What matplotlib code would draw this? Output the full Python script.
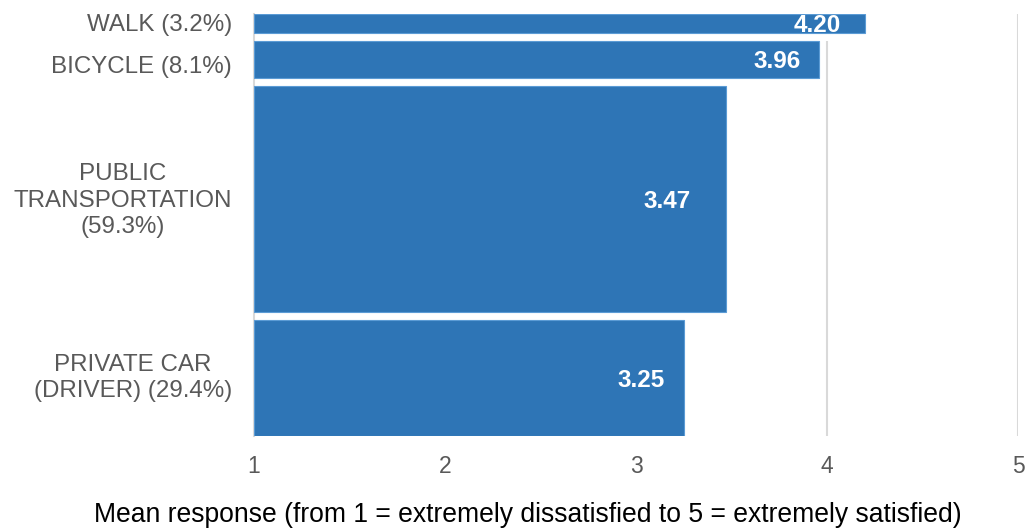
import matplotlib
matplotlib.use("Agg")
import matplotlib.pyplot as plt
from matplotlib.patches import Rectangle
from matplotlib.transforms import ScaledTranslation

# Travel modes with their share of respondents and mean satisfaction
modes = ["WALK", "BICYCLE", "PUBLIC\nTRANSPORTATION", "PRIVATE CAR\n(DRIVER)"]
shares = [3.2, 8.1, 59.3, 29.4]
means = [4.20, 3.96, 3.47, 3.25]
x_ticks = [1, 2, 3, 4, 5]

# Category label text: mode name followed by the share
labels = ["WALK (3.2%)", "BICYCLE (8.1%)",
          "PUBLIC\nTRANSPORTATION\n(59.3%)", "PRIVATE CAR\n(DRIVER) (29.4%)"]

plt.rcParams["font.family"] = ["Liberation Sans", "DejaVu Sans"]
BAR = "#2E75B6"
GREY = "#595959"
GRID = "#D9D9D9"

fig = plt.figure(figsize=(10.26, 5.28), dpi=100)
W, H = 1026, 528
ax = fig.add_axes([254 / W, (H - 436) / H, (1018 - 254) / W, (436 - 14) / H])

# bar thickness grows with share; a small extra keeps thin bars visible
extra = 1.9
gap = 2.1
pad_right = [24, 19, 35, 19]    # value label inset from bar end, pixels
label_dy = [-2, -8, -2, 0]       # small vertical nudges for category labels, pixels


def px(dx, dy):
    return ScaledTranslation(dx / 100, dy / 100, fig.dpi_scale_trans)


y = 0.0
centers = []
for i, (share, mean, pad) in enumerate(zip(shares, means, pad_right)):
    h = share + extra
    ax.add_patch(Rectangle((1, y), mean - 1, h, facecolor=BAR,
                           edgecolor="#5B9BD5", linewidth=0.8, zorder=3))
    # white separator beneath each bar hides the grid inside the gap
    if i < len(shares) - 1:
        ax.add_patch(Rectangle((1, y + h), mean - 1 + 0.02, gap,
                               facecolor="white", edgecolor="none", zorder=2))
    c = y + h / 2
    centers.append(c)
    ax.text(mean, c, f"{mean:.2f}", transform=ax.transData + px(-pad, -2.5),
            ha="right", va="center", color="white", fontsize=17.5,
            fontweight="bold", zorder=4)
    y += h + gap
total = y - gap

ax.set_xlim(1, 5)
ax.set_ylim(total, 0)

for xv in x_ticks[1:]:
    ax.axvline(xv, color=GRID, linewidth=1.5, zorder=1)

for s in ["top", "right", "bottom"]:
    ax.spines[s].set_visible(False)
ax.spines["left"].set_color(GRID)
ax.spines["left"].set_linewidth(1.5)

ax.set_xticks(x_ticks)
ax.set_xticklabels([str(t) for t in x_ticks])
ax.tick_params(axis="x", length=0, pad=14, labelsize=16.5, labelcolor=GREY)
ax.set_yticks([])

for lab, c, dy in zip(labels, centers, label_dy):
    ax.text(0, c, lab, transform=ax.get_yaxis_transform() + px(-22, dy),
            ha="right", va="center", multialignment="center", fontsize=17.4,
            color=GREY, linespacing=1.27)

fig.text(528 / W, (H - 515) / H,
         "Mean response (from 1 = extremely dissatisfied to 5 = extremely satisfied)",
         ha="center", va="center", fontsize=19.1, color="black")

fig.savefig("out.png", dpi=100)
